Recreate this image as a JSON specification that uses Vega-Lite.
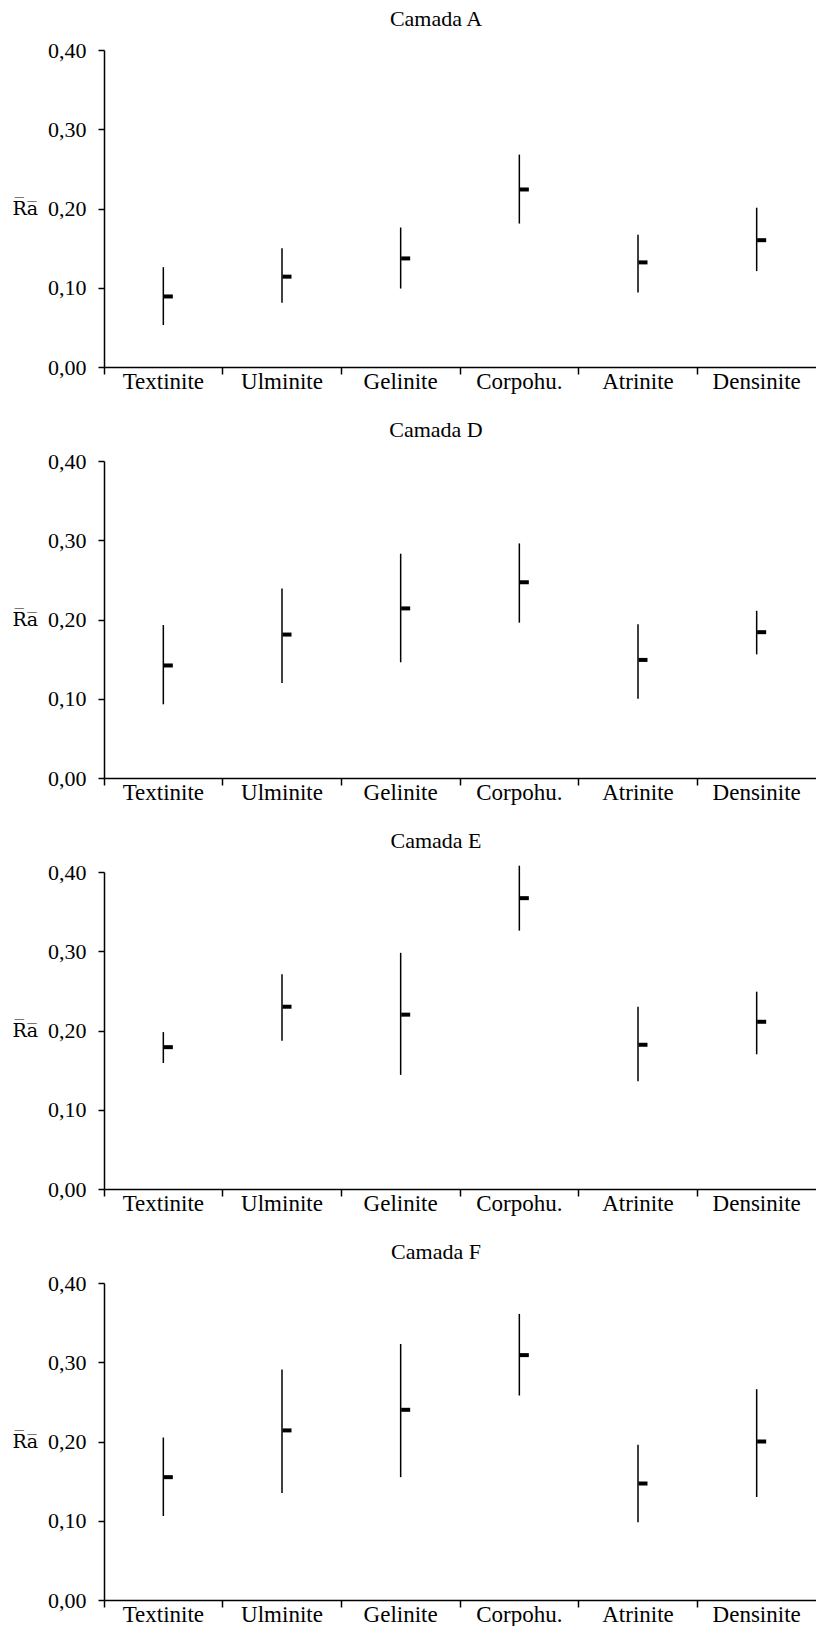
{
  "$schema": "https://vega.github.io/schema/vega-lite/v6.json",
  "background": "white",
  "padding": {"left": 12, "top": 8, "right": 0, "bottom": 0},
  "spacing": 26,
  "config": {
    "font": "Liberation Serif",
    "view": {"stroke": null},
    "title": {"font": "Liberation Serif", "fontSize": 22, "fontWeight": "normal", "color": "black", "anchor": "middle", "dx": -24, "offset": 8},
    "axis": {"labelFont": "Liberation Serif", "titleFont": "Liberation Serif", "labelColor": "black", "titleColor": "black", "domainColor": "black", "tickColor": "black", "grid": false},
    "axisY": {"titleFont": "DejaVu Serif", "labelFont": "Liberation Serif", "titleAngle": 0, "titleAlign": "left", "titleBaseline": "middle", "titleX": -92, "titleY": 158, "titleFontSize": 19, "titleFontWeight": "normal", "labelFontSize": 22, "tickSize": 6, "labelPadding": 12, "domainWidth": 1.5, "tickWidth": 1.5}
  },
  "datasets": {
    "d": [
      {"camada": "A", "cat": "Textinite", "mean": 0.089, "lo": 0.053, "hi": 0.126},
      {"camada": "A", "cat": "Ulminite", "mean": 0.114, "lo": 0.081, "hi": 0.150},
      {"camada": "A", "cat": "Gelinite", "mean": 0.137, "lo": 0.099, "hi": 0.176},
      {"camada": "A", "cat": "Corpohu.", "mean": 0.224, "lo": 0.181, "hi": 0.268},
      {"camada": "A", "cat": "Atrinite", "mean": 0.132, "lo": 0.094, "hi": 0.167},
      {"camada": "A", "cat": "Densinite", "mean": 0.160, "lo": 0.121, "hi": 0.201},
      {"camada": "D", "cat": "Textinite", "mean": 0.142, "lo": 0.093, "hi": 0.193},
      {"camada": "D", "cat": "Ulminite", "mean": 0.181, "lo": 0.120, "hi": 0.239},
      {"camada": "D", "cat": "Gelinite", "mean": 0.214, "lo": 0.146, "hi": 0.283},
      {"camada": "D", "cat": "Corpohu.", "mean": 0.247, "lo": 0.196, "hi": 0.296},
      {"camada": "D", "cat": "Atrinite", "mean": 0.149, "lo": 0.100, "hi": 0.194},
      {"camada": "D", "cat": "Densinite", "mean": 0.184, "lo": 0.156, "hi": 0.211},
      {"camada": "E", "cat": "Textinite", "mean": 0.179, "lo": 0.159, "hi": 0.198},
      {"camada": "E", "cat": "Ulminite", "mean": 0.230, "lo": 0.187, "hi": 0.271},
      {"camada": "E", "cat": "Gelinite", "mean": 0.220, "lo": 0.144, "hi": 0.298},
      {"camada": "E", "cat": "Corpohu.", "mean": 0.367, "lo": 0.326, "hi": 0.408},
      {"camada": "E", "cat": "Atrinite", "mean": 0.182, "lo": 0.136, "hi": 0.230},
      {"camada": "E", "cat": "Densinite", "mean": 0.211, "lo": 0.170, "hi": 0.249},
      {"camada": "F", "cat": "Textinite", "mean": 0.155, "lo": 0.106, "hi": 0.205},
      {"camada": "F", "cat": "Ulminite", "mean": 0.214, "lo": 0.135, "hi": 0.291},
      {"camada": "F", "cat": "Gelinite", "mean": 0.240, "lo": 0.155, "hi": 0.323},
      {"camada": "F", "cat": "Corpohu.", "mean": 0.309, "lo": 0.258, "hi": 0.361},
      {"camada": "F", "cat": "Atrinite", "mean": 0.147, "lo": 0.098, "hi": 0.196},
      {"camada": "F", "cat": "Densinite", "mean": 0.200, "lo": 0.130, "hi": 0.266}
    ]
  },
  "vconcat": [
    {
      "title": "Camada A",
      "width": 712, "height": 317,
      "data": {"name": "d"},
      "transform": [{"filter": "datum.camada === 'A'"}],
      "layer": [
        {"mark": {"type": "rule", "strokeWidth": 1.5, "color": "black"},
         "encoding": {
           "x": {"field": "cat", "type": "nominal", "sort": ["Textinite", "Ulminite", "Gelinite", "Corpohu.", "Atrinite", "Densinite"], "scale": {"paddingInner": 0, "paddingOuter": 0}, "axis": {"orient": "bottom", "title": null, "labels": false, "ticks": true, "tickSize": 7, "bandPosition": 0, "domainWidth": 1.5, "tickWidth": 1.5}},
           "y": {"field": "lo", "type": "quantitative", "scale": {"domain": [0, 0.4]}, "axis": {"title": "R̅a̅", "labelFont": "Liberation Serif", "values": [0, 0.1, 0.2, 0.3, 0.4], "labelExpr": "replace(format(datum.value, '.2f'), '.', ',')"}},
           "y2": {"field": "hi"}
         }},
        {"mark": {"type": "tick", "orient": "horizontal", "size": 9, "thickness": 4, "xOffset": 5, "color": "black", "opacity": 1},
         "encoding": {
           "x": {"field": "cat", "type": "nominal", "sort": ["Textinite", "Ulminite", "Gelinite", "Corpohu.", "Atrinite", "Densinite"], "axis": {"orient": "bottom", "title": null, "ticks": false, "domain": false, "labelAngle": 0, "labelFont": "Liberation Serif", "labelFontSize": 23, "labelPadding": 3}},
           "y": {"field": "mean", "type": "quantitative", "axis": {"title": "R̅a̅", "labelFont": "Liberation Serif", "values": [0, 0.1, 0.2, 0.3, 0.4], "labelExpr": "replace(format(datum.value, '.2f'), '.', ',')"}}
         }}
      ],
      "resolve": {"axis": {"x": "independent"}}
    },
    {
      "title": "Camada D",
      "width": 712, "height": 317,
      "data": {"name": "d"},
      "transform": [{"filter": "datum.camada === 'D'"}],
      "layer": [
        {"mark": {"type": "rule", "strokeWidth": 1.5, "color": "black"},
         "encoding": {
           "x": {"field": "cat", "type": "nominal", "sort": ["Textinite", "Ulminite", "Gelinite", "Corpohu.", "Atrinite", "Densinite"], "scale": {"paddingInner": 0, "paddingOuter": 0}, "axis": {"orient": "bottom", "title": null, "labels": false, "ticks": true, "tickSize": 7, "bandPosition": 0, "domainWidth": 1.5, "tickWidth": 1.5}},
           "y": {"field": "lo", "type": "quantitative", "scale": {"domain": [0, 0.4]}, "axis": {"title": "R̅a̅", "labelFont": "Liberation Serif", "values": [0, 0.1, 0.2, 0.3, 0.4], "labelExpr": "replace(format(datum.value, '.2f'), '.', ',')"}},
           "y2": {"field": "hi"}
         }},
        {"mark": {"type": "tick", "orient": "horizontal", "size": 9, "thickness": 4, "xOffset": 5, "color": "black", "opacity": 1},
         "encoding": {
           "x": {"field": "cat", "type": "nominal", "sort": ["Textinite", "Ulminite", "Gelinite", "Corpohu.", "Atrinite", "Densinite"], "axis": {"orient": "bottom", "title": null, "ticks": false, "domain": false, "labelAngle": 0, "labelFont": "Liberation Serif", "labelFontSize": 23, "labelPadding": 3}},
           "y": {"field": "mean", "type": "quantitative", "axis": {"title": "R̅a̅", "labelFont": "Liberation Serif", "values": [0, 0.1, 0.2, 0.3, 0.4], "labelExpr": "replace(format(datum.value, '.2f'), '.', ',')"}}
         }}
      ],
      "resolve": {"axis": {"x": "independent"}}
    },
    {
      "title": "Camada E",
      "width": 712, "height": 317,
      "data": {"name": "d"},
      "transform": [{"filter": "datum.camada === 'E'"}],
      "layer": [
        {"mark": {"type": "rule", "strokeWidth": 1.5, "color": "black"},
         "encoding": {
           "x": {"field": "cat", "type": "nominal", "sort": ["Textinite", "Ulminite", "Gelinite", "Corpohu.", "Atrinite", "Densinite"], "scale": {"paddingInner": 0, "paddingOuter": 0}, "axis": {"orient": "bottom", "title": null, "labels": false, "ticks": true, "tickSize": 7, "bandPosition": 0, "domainWidth": 1.5, "tickWidth": 1.5}},
           "y": {"field": "lo", "type": "quantitative", "scale": {"domain": [0, 0.4]}, "axis": {"title": "R̅a̅", "labelFont": "Liberation Serif", "values": [0, 0.1, 0.2, 0.3, 0.4], "labelExpr": "replace(format(datum.value, '.2f'), '.', ',')"}},
           "y2": {"field": "hi"}
         }},
        {"mark": {"type": "tick", "orient": "horizontal", "size": 9, "thickness": 4, "xOffset": 5, "color": "black", "opacity": 1},
         "encoding": {
           "x": {"field": "cat", "type": "nominal", "sort": ["Textinite", "Ulminite", "Gelinite", "Corpohu.", "Atrinite", "Densinite"], "axis": {"orient": "bottom", "title": null, "ticks": false, "domain": false, "labelAngle": 0, "labelFont": "Liberation Serif", "labelFontSize": 23, "labelPadding": 3}},
           "y": {"field": "mean", "type": "quantitative", "axis": {"title": "R̅a̅", "labelFont": "Liberation Serif", "values": [0, 0.1, 0.2, 0.3, 0.4], "labelExpr": "replace(format(datum.value, '.2f'), '.', ',')"}}
         }}
      ],
      "resolve": {"axis": {"x": "independent"}}
    },
    {
      "title": "Camada F",
      "width": 712, "height": 317,
      "data": {"name": "d"},
      "transform": [{"filter": "datum.camada === 'F'"}],
      "layer": [
        {"mark": {"type": "rule", "strokeWidth": 1.5, "color": "black"},
         "encoding": {
           "x": {"field": "cat", "type": "nominal", "sort": ["Textinite", "Ulminite", "Gelinite", "Corpohu.", "Atrinite", "Densinite"], "scale": {"paddingInner": 0, "paddingOuter": 0}, "axis": {"orient": "bottom", "title": null, "labels": false, "ticks": true, "tickSize": 7, "bandPosition": 0, "domainWidth": 1.5, "tickWidth": 1.5}},
           "y": {"field": "lo", "type": "quantitative", "scale": {"domain": [0, 0.4]}, "axis": {"title": "R̅a̅", "labelFont": "Liberation Serif", "values": [0, 0.1, 0.2, 0.3, 0.4], "labelExpr": "replace(format(datum.value, '.2f'), '.', ',')"}},
           "y2": {"field": "hi"}
         }},
        {"mark": {"type": "tick", "orient": "horizontal", "size": 9, "thickness": 4, "xOffset": 5, "color": "black", "opacity": 1},
         "encoding": {
           "x": {"field": "cat", "type": "nominal", "sort": ["Textinite", "Ulminite", "Gelinite", "Corpohu.", "Atrinite", "Densinite"], "axis": {"orient": "bottom", "title": null, "ticks": false, "domain": false, "labelAngle": 0, "labelFont": "Liberation Serif", "labelFontSize": 23, "labelPadding": 3}},
           "y": {"field": "mean", "type": "quantitative", "axis": {"title": "R̅a̅", "labelFont": "Liberation Serif", "values": [0, 0.1, 0.2, 0.3, 0.4], "labelExpr": "replace(format(datum.value, '.2f'), '.', ',')"}}
         }}
      ],
      "resolve": {"axis": {"x": "independent"}}
    }
  ]
}
